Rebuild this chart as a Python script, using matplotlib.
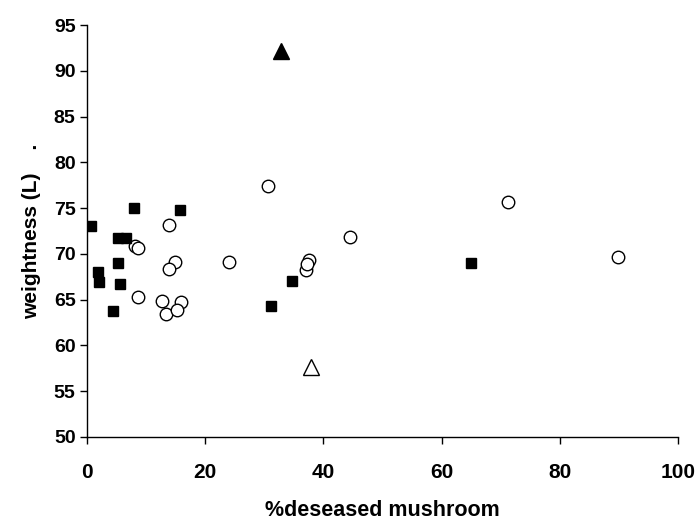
import numpy as np
import matplotlib.pyplot as plt

# ======================================================
# DATA
# ======================================================
sq_x = [0.7, 1.9, 2.1, 4.4, 5.3, 5.6, 5.3, 6.6, 8.0, 15.7, 31.1, 34.7, 64.9]
sq_y = [73.0, 68.0, 66.9, 63.8, 69.0, 66.7, 71.7, 71.7, 75.0, 74.8, 64.3, 67.0, 69.0]

circ_x = [30.6, 13.9, 8.2, 8.7, 24.0, 14.9, 13.9, 8.6, 12.7, 13.4, 15.9, 15.3,
          37.6, 37.0, 37.2, 44.6, 71.2, 89.8]
circ_y = [77.4, 73.2, 70.9, 70.6, 69.1, 69.1, 68.3, 65.3, 64.8, 63.4, 64.7, 63.9,
          69.3, 68.2, 68.9, 71.8, 75.7, 69.7]

tri_fill_x = [32.8]
tri_fill_y = [92.2]
tri_open_x = [37.9]
tri_open_y = [57.6]

x_ticks = [0, 20, 40, 60, 80, 100]
y_ticks = [50, 55, 60, 65, 70, 75, 80, 85, 90, 95]

# ======================================================
# PLOT
# ======================================================
plt.rcParams['font.family'] = ['Liberation Sans', 'DejaVu Sans']

fig = plt.figure(figsize=(6.95, 5.22), dpi=100)
ax = fig.add_axes([0.1247, 0.163, 0.851, 0.789])

ax.plot(circ_x, circ_y, linestyle="none", marker="o", markersize=9,
        markerfacecolor="white", markeredgecolor="black", markeredgewidth=1.0)
ax.plot(sq_x, sq_y, linestyle="none", marker="s", markersize=7.5,
        markerfacecolor="black", markeredgecolor="black")
ax.plot(tri_fill_x, tri_fill_y, linestyle="none", marker="^", markersize=11,
        markerfacecolor="black", markeredgecolor="black")
ax.plot(tri_open_x, tri_open_y, linestyle="none", marker="^", markersize=11,
        markerfacecolor="white", markeredgecolor="black", markeredgewidth=1.0)

ax.set_xlim(0, 100)
ax.set_ylim(50, 95)
ax.set_xticks(x_ticks)
ax.set_yticks(y_ticks)

for side in ["top", "right"]:
    ax.spines[side].set_visible(False)
for side in ["left", "bottom"]:
    ax.spines[side].set_linewidth(1.0)

ax.tick_params(axis="both", direction="out", length=5, width=1.0)
ax.tick_params(axis="y", labelsize=14, pad=3)
ax.tick_params(axis="x", labelsize=15, pad=14)
for lbl in ax.get_xticklabels() + ax.get_yticklabels():
    lbl.set_fontweight("bold")

ax.set_xlabel("%deseased mushroom", fontsize=15.5, fontweight="bold", labelpad=13)
ax.set_ylabel("weightness (L)    .", fontsize=15, fontweight="bold", labelpad=9)

fig.savefig("out.png", dpi=100)
